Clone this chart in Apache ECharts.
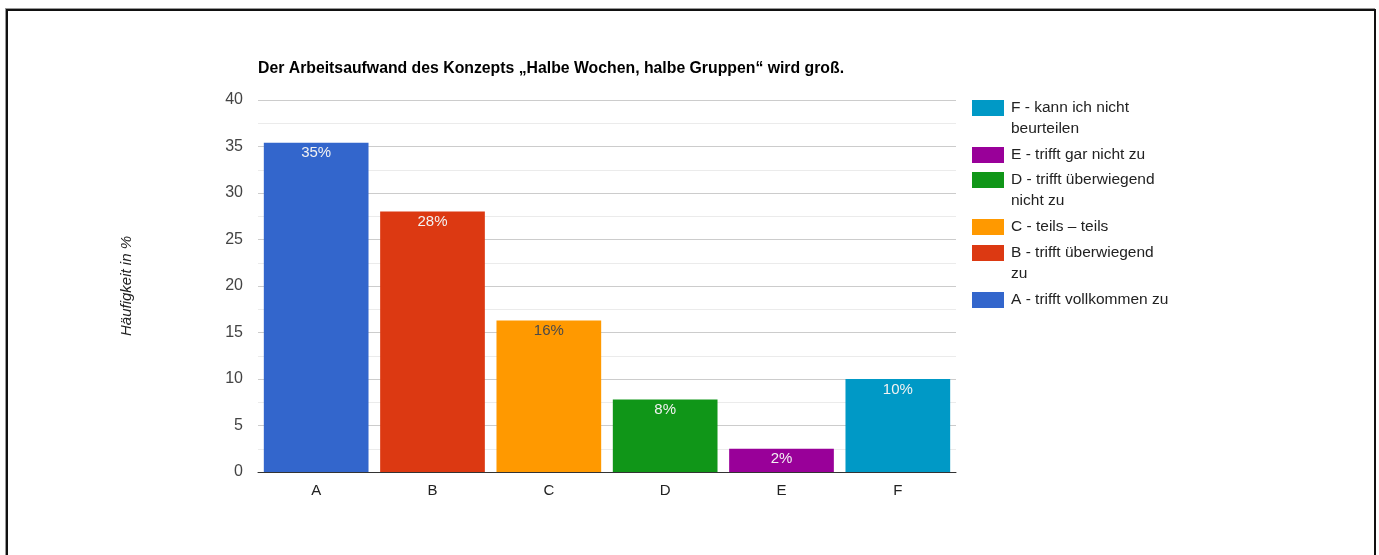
<!DOCTYPE html>
<html>
<head>
<meta charset="utf-8">
<script src="https://cdn.jsdelivr.net/npm/echarts@6/dist/echarts.min.js"></script>
<style>
    body { margin: 0; background: #fff; }
    #chart { position: absolute; left: 0; top: 0; width: 1379px; height: 555px; }
    #frame {
        position: absolute; left: 6px; top: 9px; width: 1366px; height: 600px;
        border: 2px solid #111; box-shadow: -1px -1px 0 #999; pointer-events: none;
    }
</style>
</head>
<body>
<div id="chart"></div>
<div id="frame"></div>
<script>
// data
var categories = ['A', 'B', 'C', 'D', 'E', 'F']
var seriesNames = [
    'A - trifft vollkommen zu',
    'B - trifft überwiegend zu',
    'C - teils – teils',
    'D - trifft überwiegend nicht zu',
    'E - trifft gar nicht zu',
    'F - kann ich nicht beurteilen'
]
// how the legend text wraps
var legendTexts = [
    'A - trifft vollkommen zu',
    'B - trifft überwiegend\nzu',
    'C - teils – teils',
    'D - trifft überwiegend\nnicht zu',
    'E - trifft gar nicht zu',
    'F - kann ich nicht\nbeurteilen'
]
var values = [35.4, 28, 16.3, 7.8, 2.5, 10]
var valueLabels = ['35%', '28%', '16%', '8%', '2%', '10%']
var yTicks = [0, 5, 10, 15, 20, 25, 30, 35, 40]

var colors = ['#3366cc', '#dc3912', '#ff9900', '#109618', '#990099', '#0099c6']
var labelColors = ['#f2f2f2', '#f2f2f2', '#4a4a4a', '#f2f2f2', '#f2f2f2', '#f2f2f2']

var chart = echarts.init(document.getElementById('chart'))

// one stacked series per answer, only its own category is non zero
var series = seriesNames.map(function (name, i) {
    return {
        name: name,
        type: 'bar',
        stack: 'total',
        barCategoryGap: '10%',
        itemStyle: { color: colors[i] },
        data: categories.map(function (c, j) { return j === i ? values[i] : 0 }),
        label: {
            show: true,
            position: 'insideTop',
            distance: 3,
            color: labelColors[i],
            fontSize: 15,
            fontFamily: 'Liberation Sans, Arial, sans-serif',
            formatter: function (p) { return p.dataIndex === i ? valueLabels[i] : '' }
        },
        emphasis: { disabled: true }
    }
})

// legend is drawn from F to A, one small legend per entry so the
// wrapped second line hangs under the first one like in the picture
var legendIconTop = { 5: 100, 4: 147, 3: 172, 2: 219, 1: 245, 0: 292 }
var legends = [5, 4, 3, 2, 1, 0].map(function (i) {
    var wrapped = legendTexts[i].indexOf('\n') >= 0
    return {
        orient: 'vertical',
        left: 972,
        top: legendIconTop[i] - (wrapped ? 23.5 : 2.5),
        padding: 0,
        itemWidth: 32,
        itemHeight: 16,
        itemGap: 0,
        selectedMode: false,
        icon: 'rect',
        data: [seriesNames[i]],
        formatter: function () { return wrapped ? '\n' + legendTexts[i] : legendTexts[i] },
        textStyle: {
            color: '#222',
            fontSize: 15.5,
            lineHeight: 21,
            padding: [0, 0, 0, 2],
            fontFamily: 'Liberation Sans, Arial, sans-serif'
        }
    }
})

var option = {
    animation: false,
    textStyle: { fontFamily: 'Liberation Sans, Arial, sans-serif' },
    title: {
        text: 'Der Arbeitsaufwand des Konzepts „Halbe Wochen, halbe Gruppen“ wird groß.',
        left: 253,
        top: 56,
        textStyle: { fontSize: 15.8, fontWeight: 'bold', color: '#000' }
    },
    legend: legends,
    grid: { left: 258, right: 423, top: 100, bottom: 83 },
    xAxis: {
        type: 'category',
        data: categories,
        axisLine: { lineStyle: { color: '#333', width: 1 } },
        axisTick: { show: false },
        axisLabel: { color: '#222', fontSize: 15, margin: 11 }
    },
    yAxis: {
        type: 'value',
        min: yTicks[0],
        max: yTicks[yTicks.length - 1],
        interval: 5,
        name: 'Häufigkeit in %',
        nameLocation: 'middle',
        nameRotate: 90,
        nameGap: 124,
        nameTextStyle: { color: '#222', fontSize: 15, fontStyle: 'italic' },
        axisLine: { show: false },
        axisTick: { show: false },
        axisLabel: { color: '#444', fontSize: 16, margin: 15 },
        splitLine: { lineStyle: { color: '#cccccc' } },
        minorTick: { show: false, splitNumber: 2 },
        minorSplitLine: { show: true, lineStyle: { color: '#ebebeb' } }
    },
    series: series
}

chart.setOption(option)
</script>
</body>
</html>
